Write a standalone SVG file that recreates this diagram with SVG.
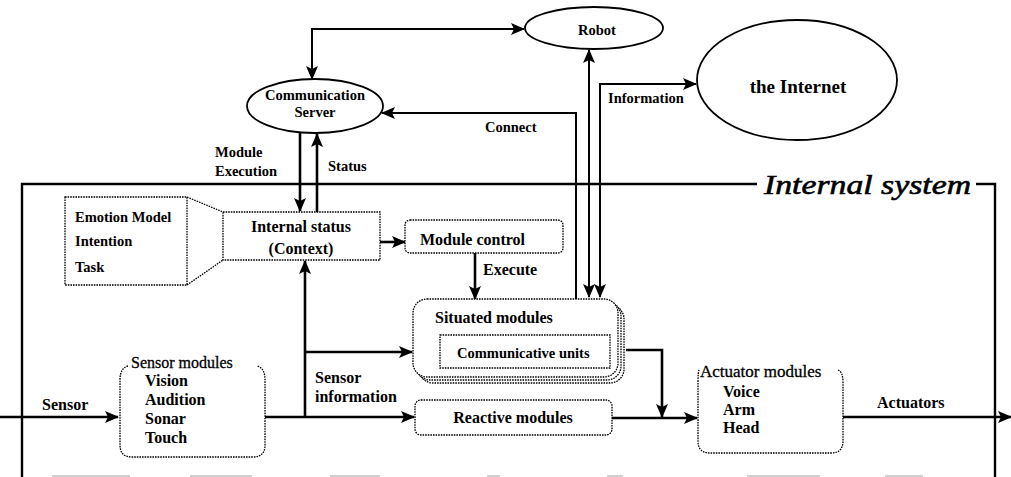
<svg xmlns="http://www.w3.org/2000/svg" width="1011" height="477" viewBox="0 0 1011 477">
  <style>
    text { font-family: "Liberation Serif", "Times New Roman", serif; fill: #000; }
    .b { font-weight: bold; }
    .lbl { font-size: 14.5px; font-weight: bold; }
    .mid { font-size: 16px; font-weight: bold; }
    .dot { fill: #fff; stroke: #000; stroke-width: 1.3; stroke-dasharray: 1.6 1; }
    .line { fill: none; stroke: #000; stroke-width: 2.6; }
    .thin { fill: none; stroke: #000; stroke-width: 2; }
    .ell { fill: #fff; stroke: #000; stroke-width: 1.8; }
    .frame { fill: none; stroke: #000; stroke-width: 2.4; }
  </style>
  <defs>
    <marker id="arr" markerUnits="userSpaceOnUse" markerWidth="14" markerHeight="12" viewBox="0 0 14 12" refX="13" refY="6" orient="auto-start-reverse">
      <path d="M0,0 L14,6 L0,12 L3,6 Z" fill="#000"/>
    </marker>
  </defs>

  <rect width="1011" height="477" fill="#fff"/>

  <!-- frame of the internal system -->
  <g id="internal-system">
    <path class="frame" d="M757,184 L22,184 L22,477"/>
    <path class="frame" d="M976,184 L995,184 L995,477"/>
    <text x="764" y="194" font-size="28" font-style="italic" stroke="#000" stroke-width="0.6" textLength="207" lengthAdjust="spacingAndGlyphs">Internal system</text>
  </g>

  <!-- connectors -->
  <g id="connectors">
    <!-- communication server <-> robot -->
    <path class="thin" d="M312,79 L312,29 L524,29" marker-start="url(#arr)" marker-end="url(#arr)"/>
    <!-- situated modules -> communication server (Connect) -->
    <path class="thin" d="M576,299 L576,113 L382,113" marker-end="url(#arr)"/>
    <!-- situated modules <-> robot -->
    <path class="thin" d="M589,297 L589,50" marker-start="url(#arr)" marker-end="url(#arr)"/>
    <!-- situated modules <-> the Internet -->
    <path class="thin" d="M600,297 L600,84 L696,84" marker-start="url(#arr)" marker-end="url(#arr)"/>
    <!-- module execution / status -->
    <path class="line" d="M300,132 L300,211" marker-end="url(#arr)"/>
    <path class="line" d="M317,212 L317,134" marker-end="url(#arr)"/>
    <!-- internal status -> module control -->
    <path class="line" d="M380,242 L405,242" marker-end="url(#arr)"/>
    <!-- execute -->
    <path class="line" d="M475,253 L475,299" marker-end="url(#arr)"/>
    <!-- sensor input -->
    <path class="line" d="M0,417 L118,417" marker-end="url(#arr)"/>
    <!-- sensor information -->
    <path class="line" d="M265,417 L414,417" marker-end="url(#arr)"/>
    <path class="line" d="M305,417 L305,261" marker-end="url(#arr)"/>
    <path class="line" d="M305,352 L412,352" marker-end="url(#arr)"/>
    <!-- reactive -> actuator modules -->
    <path class="line" d="M612,418 L697,418" marker-end="url(#arr)"/>
    <!-- communicative units -> actuator path -->
    <path class="line" d="M626,350 L662,350 L662,417" marker-end="url(#arr)"/>
    <!-- actuators output -->
    <path class="line" d="M843,417 L1011,417" marker-end="url(#arr)"/>
  </g>

  <!-- labels on connectors -->
  <g id="connector-labels">
    <text class="lbl" x="215" y="157">Module</text>
    <text class="lbl" x="215" y="176">Execution</text>
    <text class="lbl" x="328" y="171">Status</text>
    <text class="lbl" x="485" y="132">Connect</text>
    <text class="lbl" x="608" y="103">Information</text>
    <text class="mid" x="483" y="275">Execute</text>
    <text class="mid" x="42" y="410">Sensor</text>
    <text class="mid" x="315" y="383">Sensor</text>
    <text class="mid" x="315" y="402">information</text>
    <text class="mid" x="877" y="408">Actuators</text>
  </g>

  <g id="robot">
    <ellipse class="ell" cx="594" cy="28" rx="69" ry="21"/>
    <text class="lbl" x="597" y="35" text-anchor="middle">Robot</text>
  </g>

  <g id="internet">
    <ellipse class="ell" cx="797" cy="80" rx="100" ry="60"/>
    <text class="b" x="798" y="93" font-size="19" text-anchor="middle">the Internet</text>
  </g>

  <g id="communication-server">
    <ellipse class="ell" cx="315" cy="106" rx="68" ry="27"/>
    <text class="lbl" x="315" y="100" text-anchor="middle">Communication</text>
    <text class="lbl" x="315" y="117" text-anchor="middle">Server</text>
  </g>

  <g id="context-detail">
    <rect class="dot" x="65" y="197" width="122" height="88"/>
    <path class="dot" d="M187,197 L223,212 M187,285 L223,260" fill="none"/>
    <text class="lbl" x="75" y="222">Emotion Model</text>
    <text class="lbl" x="75" y="246">Intention</text>
    <text class="lbl" x="75" y="272">Task</text>
  </g>

  <g id="internal-status">
    <rect class="dot" x="223" y="212" width="157" height="48"/>
    <text class="mid" x="301" y="232" text-anchor="middle">Internal status</text>
    <text class="mid" x="301" y="254" text-anchor="middle">(Context)</text>
  </g>

  <g id="module-control">
    <rect class="dot" x="405" y="220" width="158" height="33" rx="5"/>
    <text class="mid" x="420" y="245">Module control</text>
  </g>

  <g id="situated-modules">
    <rect class="dot" x="419" y="305" width="205" height="78" rx="14"/>
    <rect class="dot" x="416" y="302" width="205" height="78" rx="14"/>
    <rect class="dot" x="413" y="299" width="205" height="78" rx="14"/>
    <text class="mid" x="435" y="323">Situated modules</text>
    <rect class="dot" x="440" y="335" width="170" height="33"/>
    <text class="lbl" x="457" y="358">Communicative units</text>
  </g>

  <g id="reactive-modules">
    <rect class="dot" x="415" y="400" width="197" height="35" rx="6"/>
    <text class="mid" x="513" y="423" text-anchor="middle">Reactive modules</text>
  </g>

  <g id="sensor-modules">
    <path class="dot" fill="none" d="M128,366 Q120,368 120,380 L120,445 Q120,457 132,457 L253,457 Q265,457 265,445 L265,380 Q265,368 257,366"/>
    <text x="131" y="368" font-size="16" stroke="#000" stroke-width="0.3">Sensor modules</text>
    <text class="mid" x="145" y="386">Vision</text>
    <text class="mid" x="145" y="405">Audition</text>
    <text class="mid" x="145" y="424">Sonar</text>
    <text class="mid" x="145" y="443">Touch</text>
  </g>

  <g id="actuator-modules">
    <path class="dot" fill="none" d="M699,370 Q698,372 698,382 L698,441 Q698,453 710,453 L831,453 Q843,453 843,441 L843,382 Q843,372 838,370"/>
    <text x="700" y="377" font-size="17" stroke="#000" stroke-width="0.3">Actuator modules</text>
    <text class="mid" x="723" y="397">Voice</text>
    <text class="mid" x="723" y="415">Arm</text>
    <text class="mid" x="723" y="433">Head</text>
  </g>

  <!-- faint rules along the lower edge -->
  <g fill="#cfcfcf">
    <rect x="52" y="475" width="78" height="2"/>
    <rect x="190" y="475" width="62" height="2"/>
    <rect x="330" y="475" width="50" height="2"/>
    <rect x="487" y="475" width="13" height="2"/>
    <rect x="607" y="475" width="16" height="2"/>
    <rect x="747" y="475" width="73" height="2"/>
    <rect x="885" y="475" width="38" height="2"/>
  </g>
</svg>
